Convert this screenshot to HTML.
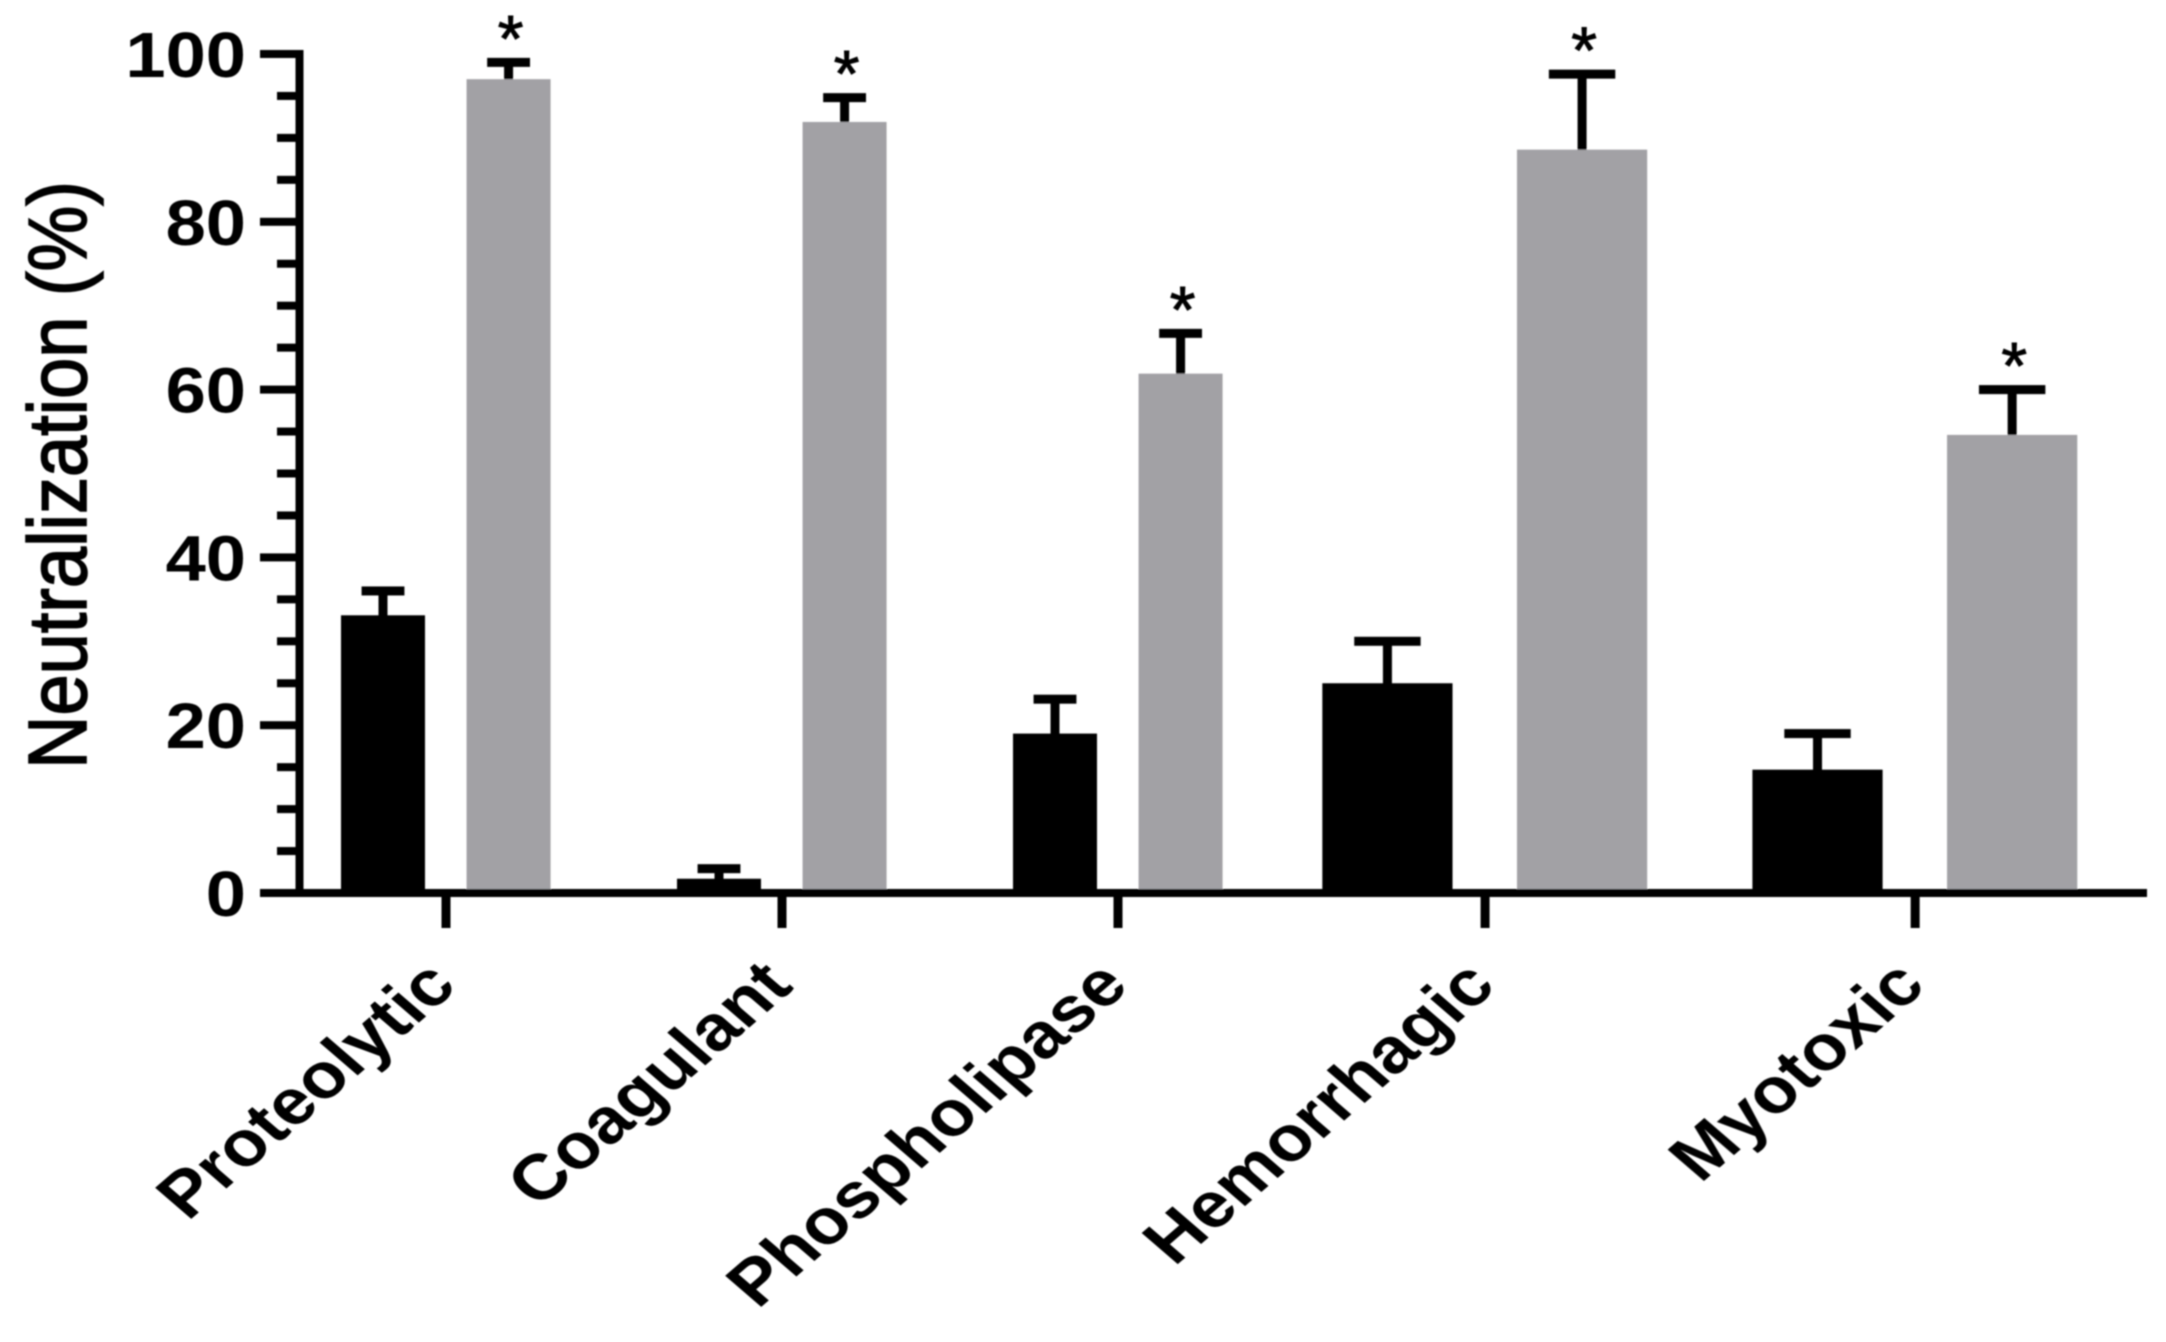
<!DOCTYPE html>
<html lang="en">
<head>
<meta charset="utf-8">
<title>Neutralization chart</title>
<style>
  html, body { margin: 0; padding: 0; background: #fff; }
  #chart { display: block; width: 2166px; height: 1342px; font-family: "Liberation Sans", Arial, sans-serif; }
</style>
</head>
<body>
<svg id="chart" xmlns="http://www.w3.org/2000/svg" width="2166" height="1342" viewBox="0 0 2166 1342">
  <defs><filter id="soft" x="-2%" y="-2%" width="104%" height="104%"><feGaussianBlur stdDeviation="0.9"/></filter></defs>
  <rect width="2166" height="1342" fill="#fff"/>
  <g id="plot" filter="url(#soft)"></g>
</svg>
<script>
// ---- chart data ----
const categories = ['Proteolytic', 'Coagulant', 'Phospholipase', 'Hemorrhagic', 'Myotoxic'];
const blackValues = [33.1, 1.7, 19.0, 25.0, 14.7];
const blackErrorTops = [36.0, 2.9, 23.1, 30.0, 19.0];
const grayValues = [97.0, 91.9, 61.9, 88.6, 54.6];
const grayErrorTops = [99.0, 94.8, 66.7, 97.6, 60.0];
const significance = ['*', '*', '*', '*', '*'];
const yMajorTicks = [0, 20, 40, 60, 80, 100];
const yMinorTicks = [5, 10, 15, 25, 30, 35, 45, 50, 55, 65, 70, 75, 85, 90, 95];
const yTickLabels = ['0', '20', '40', '60', '80', '100'];
// relative category band and bar widths (the figure's last two groups are wider)
const bandWeights = [1, 1, 1, 1.185, 1.375];
const barWeights = [1, 1, 1, 1.55, 1.55];

// ---- axis functions ----
const Y0 = 893, PX_PER_UNIT = 8.39;
const X_START = 278, BAND_UNIT = 336, BAR_UNIT = 84;
const AXIS_X = 299.5, AXIS_RIGHT = 2147;
const yScale = v => Y0 - v * PX_PER_UNIT;
const bandCenter = i => {
  let left = X_START;
  for (let k = 0; k < i; k++) left += bandWeights[k] * BAND_UNIT;
  return left + bandWeights[i] * BAND_UNIT / 2;
};
const barWidth = i => barWeights[i] * BAR_UNIT;
const blackCenter = i => bandCenter(i) - barWidth(i) * 0.75;
const grayCenter = i => bandCenter(i) + barWidth(i) * 0.745;

const NS = 'http://www.w3.org/2000/svg';
const plot = document.getElementById('plot');
function mk(tag, attrs, text) {
  const el = document.createElementNS(NS, tag);
  for (const k in attrs) el.setAttribute(k, attrs[k]);
  if (text !== undefined) el.textContent = text;
  plot.appendChild(el);
  return el;
}
function errorBar(cx, valueTop, errTop, width, key) {
  const yTop = yScale(errTop);
  const stem = mk('rect', { x: cx - 4.5, y: yTop, width: 9, height: yScale(valueTop) - yTop + 2, fill: '#000' });
  
  
  const capW = width * 0.51;
  const cap = mk('rect', { x: cx - capW / 2, y: yTop - 4.5, width: capW, height: 9, fill: '#000' });
  
  
}

// ---- bars ----
categories.forEach((name, i) => {
  const w = barWidth(i);
  const slug = name.toLowerCase();
  const bx = blackCenter(i), gx = grayCenter(i);
  errorBar(bx, blackValues[i], blackErrorTops[i], w, slug + '-black');
  errorBar(gx, grayValues[i], grayErrorTops[i], w, slug + '-gray');
  const b = mk('rect', { x: bx - w / 2, y: yScale(blackValues[i]), width: w, height: Y0 - yScale(blackValues[i]), fill: '#000' });
  
  
  const g = mk('rect', { x: gx - w / 2, y: yScale(grayValues[i]), width: w, height: Y0 - yScale(grayValues[i]), fill: '#a2a1a5' });
  
  
  const star = mk('text', { x: gx + 2, y: yScale(grayErrorTops[i]) - 1, 'font-size': 66, 'text-anchor': 'middle', fill: '#000', stroke: '#000', 'stroke-width': 1 }, significance[i]);
  
  
});

// ---- y axis ----
const yAxis = mk('rect', { x: AXIS_X - 4, y: yScale(100) - 4, width: 8, height: Y0 - yScale(100) + 8, fill: '#000' });


yMajorTicks.forEach((v, i) => {
  const t = mk('rect', { x: 260, y: yScale(v) - 4, width: AXIS_X - 260, height: 8, fill: '#000' });
  
  
  const lab = mk('text', { transform: 'translate(246,' + (yScale(v) + 23) + ') scale(1.13,1)', 'font-size': 64, 'font-weight': 700, 'text-anchor': 'end', fill: '#000' }, yTickLabels[i]);
  
  
});
yMinorTicks.forEach(v => {
  const t = mk('rect', { x: 277, y: yScale(v) - 4, width: AXIS_X - 277, height: 8, fill: '#000' });
  
  
});
const yTitle = mk('text', { transform: 'translate(86,475) scale(1.11,1) rotate(-90)', 'font-size': 74, 'text-anchor': 'middle', fill: '#000', stroke: '#000', 'stroke-width': 1.5 }, 'Neutralization (%)');



// ---- x axis ----
const xAxis = mk('rect', { x: 260, y: Y0 - 4, width: AXIS_RIGHT - 260, height: 8, fill: '#000' });


categories.forEach((name, i) => {
  const cx = bandCenter(i);
  const t = mk('rect', { x: cx - 4.5, y: Y0, width: 9, height: 35, fill: '#000' });
  
  
  const lab = mk('text', { transform: 'translate(' + (cx + 13) + ',988) scale(1.16,1) rotate(-45)', 'font-size': 64, 'font-weight': 700, 'text-anchor': 'end', fill: '#000' }, name);
  
  
});
</script>
</body>
</html>
